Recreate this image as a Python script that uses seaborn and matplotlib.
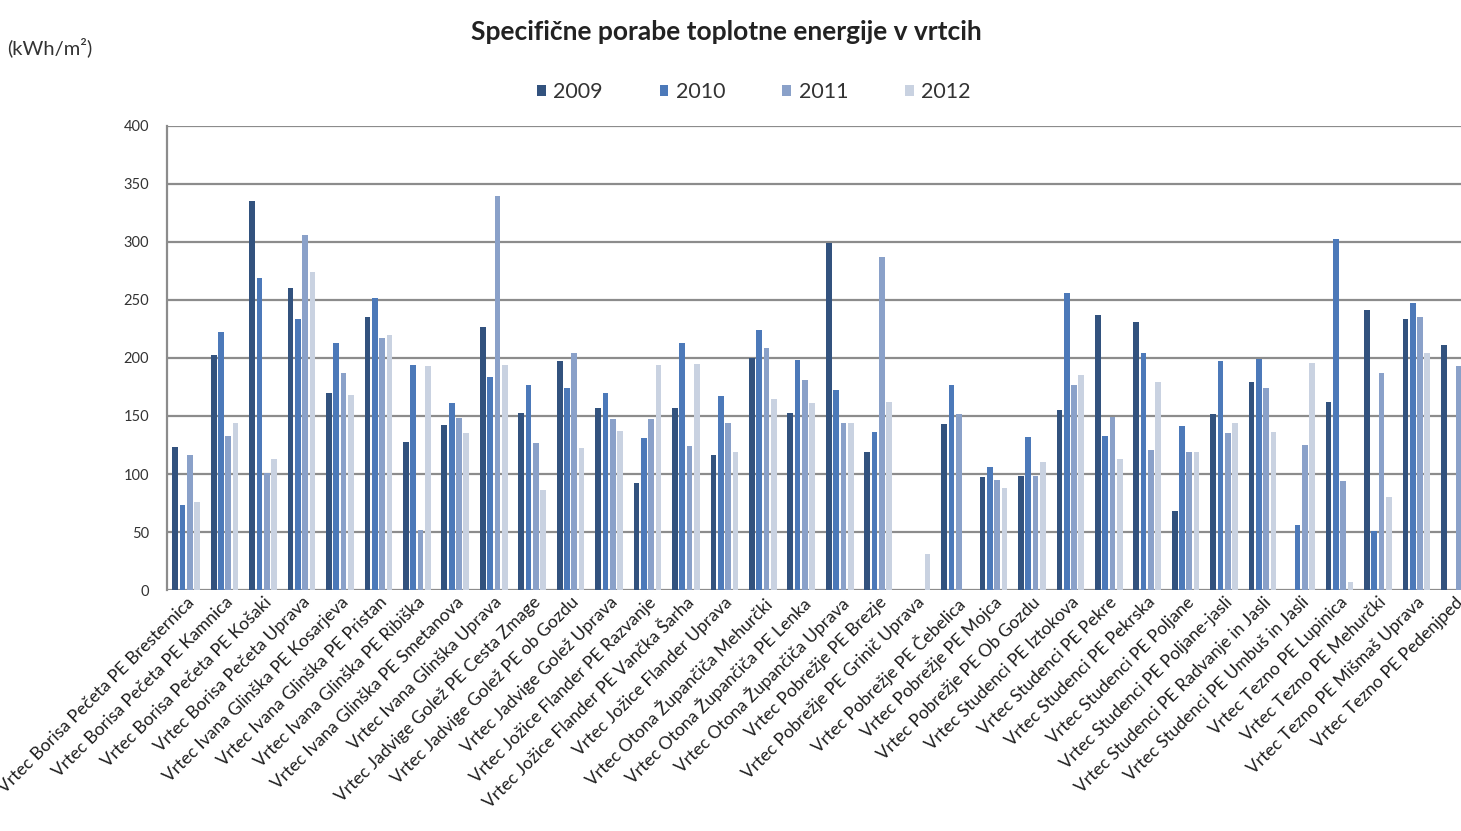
import numpy as np
import pandas as pd
import matplotlib
matplotlib.use("Agg")
import matplotlib.pyplot as plt
import seaborn as sns

categories = [
    "Vrtec Borisa Pečeta PE Bresternica",
    "Vrtec Borisa Pečeta PE Kamnica",
    "Vrtec Borisa Pečeta PE Košaki",
    "Vrtec Borisa Pečeta Uprava",
    "Vrtec Ivana Glinška PE Kosarjeva",
    "Vrtec Ivana Glinška PE Pristan",
    "Vrtec Ivana Glinška PE Ribiška",
    "Vrtec Ivana Glinška PE Smetanova",
    "Vrtec Ivana Glinška Uprava",
    "Vrtec Jadvige Golež PE Cesta Zmage",
    "Vrtec Jadvige Golež PE ob Gozdu",
    "Vrtec Jadvige Golež Uprava",
    "Vrtec Jožice Flander PE Razvanje",
    "Vrtec Jožice Flander PE Vančka Šarha",
    "Vrtec Jožice Flander Uprava",
    "Vrtec Otona Župančiča Mehurčki",
    "Vrtec Otona Župančiča PE Lenka",
    "Vrtec Otona Župančiča Uprava",
    "Vrtec Pobrežje PE Brezje",
    "Vrtec Pobrežje PE Grinič Uprava",
    "Vrtec Pobrežje PE Čebelica",
    "Vrtec Pobrežje PE Mojca",
    "Vrtec Pobrežje PE Ob Gozdu",
    "Vrtec Studenci PE Iztokova",
    "Vrtec Studenci PE Pekre",
    "Vrtec Studenci PE Pekrska",
    "Vrtec Studenci PE Poljane",
    "Vrtec Studenci PE Poljane-jasli",
    "Vrtec Studenci PE Radvanje in Jasli",
    "Vrtec Studenci PE Umbuš in Jasli",
    "Vrtec Tezno PE Lupinica",
    "Vrtec Tezno PE Mehurčki",
    "Vrtec Tezno PE Mišmaš Uprava",
    "Vrtec Tezno PE Pedenjped",
]

years = ["2009", "2010", "2011", "2012"]

# kWh/m2 per kindergarten unit and year
v2009 = [123, 203, 335, 260, 170, 235, 128, 142, 227, 153, 197, 157, 92, 157, 116, 200, 153,
         299, 119, 0, 143, 97, 98, 155, 237, 231, 68, 152, 179, 0, 162, 241, 234, 211]
v2010 = [73, 222, 269, 234, 213, 252, 194, 161, 184, 177, 174, 170, 131, 213, 167, 224, 198,
         172, 136, 0, 177, 106, 132, 256, 133, 204, 141, 197, 199, 56, 303, 51, 247, 0]
v2011 = [116, 133, 101, 306, 187, 217, 52, 148, 340, 127, 204, 147, 147, 124, 144, 209, 181,
         144, 287, 0, 152, 95, 98, 177, 149, 121, 119, 135, 174, 125, 94, 187, 235, 193]
v2012 = [76, 144, 113, 274, 168, 220, 193, 135, 194, 86, 122, 137, 194, 195, 119, 165, 161,
         144, 162, 31, 0, 88, 110, 185, 113, 179, 119, 144, 136, 196, 7, 80, 204, np.nan]

palette = ["#32527e", "#4c79b9", "#8aa1c9", "#c9d2e1"]

df = pd.DataFrame({
    "kategorija": categories * 4,
    "leto": np.repeat(years, len(categories)),
    "vrednost": v2009 + v2010 + v2011 + v2012,
})

sns.set_theme(style="white")
plt.rcParams["font.family"] = ["Lato", "DejaVu Sans"]

fig = plt.figure(figsize=(14.61, 8.31), dpi=100)
ax = fig.add_axes([0.1143, 0.290, 0.8946, 0.5584])

sns.barplot(data=df, x="kategorija", y="vrednost", hue="leto", order=categories,
            hue_order=years, palette=palette, width=0.76, gap=0.22,
            saturation=1, errorbar=None, ax=ax, legend=True, linewidth=0)

ax.set_ylim(0, 400)
ax.set_yticks(np.arange(0, 401, 50))
ax.set_xlim(-0.5, len(categories) - 0.5)
ax.yaxis.grid(True, color="#8c8c8c", linewidth=1.6)
ax.set_axisbelow(True)
for side in ["top", "right", "bottom"]:
    ax.spines[side].set_visible(False)
ax.spines["left"].set_color("#8c8c8c")
ax.spines["left"].set_linewidth(1.6)

ax.set_xlabel("")
ax.set_ylabel("")
ax.tick_params(axis="y", labelsize=10.5, colors="#333333", pad=13, length=0)
ax.tick_params(axis="x", length=0, pad=3)
ax.set_xticks(range(len(categories)))
ax.set_xticklabels(categories, rotation=45, ha="right", rotation_mode="anchor",
                   fontsize=12.6, color="#1e1e1e")

handles, labels = ax.get_legend_handles_labels()
ax.get_legend().remove()
fig.legend(handles, labels, loc="center", bbox_to_anchor=(0.516, 0.889), ncol=4,
           frameon=False, fontsize=15.5, handlelength=0.4, handleheight=0.4,
           handletextpad=0.35, columnspacing=2.65, labelcolor="#333333")

fig.text(0.497, 0.961, "Specifične porabe toplotne energije v vrtcih", ha="center",
         va="center", fontsize=19, fontweight="bold", color="#222222")
fig.text(0.005, 0.943, "(kWh/m²)", ha="left", va="center", fontsize=14.5, color="#333333")

fig.savefig("out.png", dpi=100)
